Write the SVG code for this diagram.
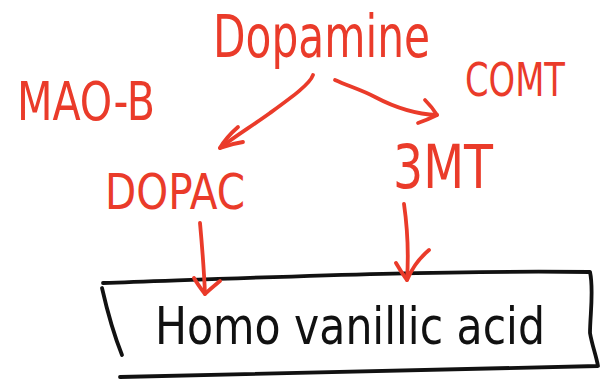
<svg xmlns="http://www.w3.org/2000/svg" width="600" height="382" viewBox="0 0 600 382">
  <style>
    .red { fill: #EA3B2A; font-family: "Liberation Sans Narrow", "DejaVu Sans Condensed", sans-serif; }
    .blk { fill: #111111; font-family: "Liberation Sans Narrow", "DejaVu Sans Condensed", sans-serif; }
    .ink { fill: none; stroke: #EA3B2A; stroke-width: 3.8; stroke-linecap: round; stroke-linejoin: round; }
    .box { fill: none; stroke: #111111; stroke-width: 3.8; stroke-linecap: round; stroke-linejoin: round; }
  </style>
  <rect width="600" height="382" fill="#ffffff"/>

  <g id="dopamine">
    <text class="red" x="213" y="57" font-size="58" textLength="217" lengthAdjust="spacingAndGlyphs">Dopamine</text>
  </g>
  <g id="mao-b">
    <text class="red" x="17" y="120" font-size="53" textLength="138" lengthAdjust="spacingAndGlyphs">MAO-B</text>
  </g>
  <g id="comt">
    <text class="red" x="465" y="96" font-size="46" textLength="100" lengthAdjust="spacingAndGlyphs">COMT</text>
  </g>
  <g id="dopac">
    <text class="red" x="105" y="209" font-size="50" textLength="140" lengthAdjust="spacingAndGlyphs">DOPAC</text>
  </g>
  <g id="3mt">
    <text class="red" x="393" y="188" font-size="60" textLength="100" lengthAdjust="spacingAndGlyphs">3MT</text>
  </g>

  <g id="hva">
    <path class="box" d="M103 283 C250 278 430 270 590 272 C594 290 590 315 590 333 C592 345 596 355 598 366 C440 369 280 373 120 377"/>
    <path class="box" d="M102 288 C107 310 114 335 122 355"/>
    <text class="blk" x="155" y="344" font-size="52" textLength="390" lengthAdjust="spacingAndGlyphs">Homo vanillic acid</text>
  </g>

  <g id="connectors">
    <!-- dopamine to DOPAC -->
    <path class="ink" d="M313 75 C310 84 292 97 270 113 C252 126 234 137 220 148"/>
    <path class="ink" d="M238 127 C230 134 224 141 220 148 C228 145 236 143 243 142"/>
    <!-- dopamine to COMT side -->
    <path class="ink" d="M335 80 C348 86 362 90 375 97 C392 106 412 114 437 115"/>
    <path class="ink" d="M425 100 C430 105 434 110 437 115 C431 118 424 121 418 123"/>
    <!-- DOPAC down to the box -->
    <path class="ink" d="M200 223 C202 245 204 270 205 294"/>
    <path class="ink" d="M194 278 C198 285 202 290 205 294 C209 290 214 286 220 281"/>
    <!-- 3MT down to the box -->
    <path class="ink" d="M404 204 C407 225 409 250 407 280"/>
    <path class="ink" d="M396 263 C400 270 404 276 407 280 C411 272 415 262 429 250"/>
  </g>
</svg>
